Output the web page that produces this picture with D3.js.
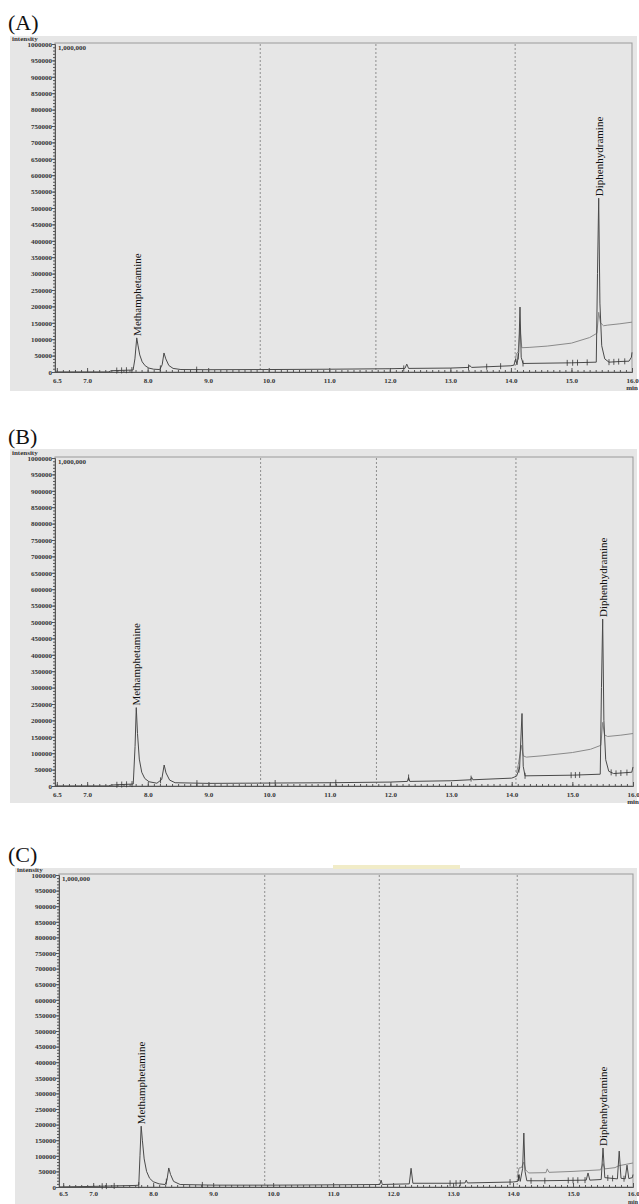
<!DOCTYPE html>
<html>
<head>
<meta charset="utf-8">
<script src="https://cdn.jsdelivr.net/npm/d3@7/dist/d3.min.js"></script>
<style>
  body { margin: 0; background: #fff; }
  svg { display: block; }
  .axis text { font-family: "Liberation Serif", serif; font-weight: bold; font-size: 7px; fill: #333; }
  .axis path, .axis line { stroke: #555; }
</style>
</head>
<body>
<div id="chart"></div>
<script>
// tick labels
const xTickValues = [6.5, 7.0, 8.0, 9.0, 10.0, 11.0, 12.0, 13.0, 14.0, 15.0, 16.0];
const yTickValues = [0, 50000, 100000, 150000, 200000, 250000, 300000, 350000, 400000, 450000, 500000,
  550000, 600000, 650000, 700000, 750000, 800000, 850000, 900000, 950000, 1000000];
const panelNames = ["(A)", "(B)", "(C)"];
// segment boundaries (min), dashed lines
const segmentTimes = [9.86, 11.77, 14.07];

// (A) TIC trace [min, intensity]
const ticA = [[6.47,0],[7.35,0],[7.40,4000],[7.76,6000],[7.79,40000],[7.82,104000],[7.84,82000],[7.87,52000],
  [7.91,31000],[7.96,19000],[8.02,12000],[8.10,8500],[8.20,7500],[8.24,22000],[8.27,58000],[8.30,40000],
  [8.35,20000],[8.42,11000],[8.55,7500],[9.0,7000],[10.0,7500],[11.0,8500],[12.0,10000],[12.25,11000],
  [12.28,24000],[12.31,11000],[13.0,12000],[13.30,14000],[13.32,20000],[13.35,14000],[14.0,19000],
  [14.05,21000],[14.08,40000],[14.10,22000],[14.13,60000],[14.15,198000],[14.17,45000],[14.20,26000],
  [15.0,28000],[15.41,30000],[15.43,300000],[15.45,530000],[15.47,210000],[15.50,80000],[15.55,40000],
  [15.62,30000],[15.80,32000],[15.95,33000],[15.99,45000],[16.0,60000]];
// (A) second trace, starts at last segment
const subA = [[14.07,30000],[14.09,55000],[14.12,62000],[14.15,135000],[14.18,74000],[14.30,75000],
  [14.60,79000],[15.0,88000],[15.30,105000],[15.42,118000],[15.45,182000],[15.48,150000],[15.53,141000],
  [15.60,143000],[15.80,147000],[16.0,152000]];
const marksA = [7.49, 7.57, 7.65, 7.74, 8.21, 8.81, 12.23, 13.30, 13.60, 13.83, 14.12, 14.20, 14.93, 15.02, 15.10, 15.26, 15.62, 15.70, 15.78, 15.88];
const peaksA = [{ name: "Methamphetamine", t: 7.82, v: 104000 }, { name: "Diphenhydramine", t: 15.45, v: 530000 }];

// (B)
const ticB = [[6.47,0],[7.35,0],[7.40,3000],[7.76,6000],[7.79,120000],[7.81,239000],[7.83,160000],[7.86,82000],
  [7.90,42000],[7.95,23000],[8.02,13000],[8.15,8500],[8.23,20000],[8.27,64000],[8.30,40000],[8.36,18000],
  [8.45,10000],[9.0,8000],[10.0,9000],[11.0,10000],[12.0,12000],[12.28,14000],[12.30,26000],[12.32,14000],
  [13.0,16000],[13.32,19000],[13.34,26000],[13.36,19000],[14.0,24000],[14.08,30000],[14.13,55000],
  [14.17,221000],[14.19,60000],[14.22,31000],[15.0,33000],[15.46,36000],[15.48,300000],[15.50,509000],
  [15.52,200000],[15.55,80000],[15.60,45000],[15.68,38000],[15.98,42000],[16.0,58000]];
const subB = [[14.08,40000],[14.11,66000],[14.16,124000],[14.19,92000],[14.24,88000],[14.50,92000],
  [15.0,102000],[15.30,112000],[15.47,124000],[15.50,194000],[15.53,156000],[15.58,151000],[15.80,155000],
  [16.0,160000]];
const marksB = [7.49, 7.57, 7.65, 7.74, 8.21, 8.81, 10.10, 11.10, 12.30, 13.33, 14.12, 14.22, 14.98, 15.05, 15.12, 15.64, 15.72, 15.80, 15.90];
const peaksB = [{ name: "Methamphetamine", t: 7.81, v: 239000 }, { name: "Diphenhydramine", t: 15.50, v: 509000 }];

// (C)
const ticC = [[6.43,0],[7.0,2000],[7.70,5000],[7.76,6000],[7.78,100000],[7.80,195000],[7.82,150000],[7.85,90000],
  [7.89,50000],[7.94,28000],[8.0,17000],[8.10,10000],[8.20,8000],[8.23,22000],[8.26,61000],[8.29,40000],
  [8.34,18000],[8.45,8000],[9.0,6000],[10.0,6000],[11.0,7000],[11.78,8000],[11.80,22000],[11.82,8000],
  [12.0,9000],[12.27,10000],[12.30,60000],[12.33,12000],[13.0,12000],[13.20,13000],[13.22,22000],
  [13.24,13000],[14.0,16000],[14.08,18000],[14.10,40000],[14.12,18000],[14.16,60000],[14.18,173000],
  [14.20,50000],[14.23,20000],[14.50,20000],[15.22,22000],[15.25,45000],[15.28,22000],[15.47,24000],
  [15.50,125000],[15.53,30000],[15.74,26000],[15.77,115000],[15.80,28000],[15.87,26000],[15.90,70000],
  [15.93,27000],[15.99,30000],[16.0,40000]];
const subC = [[14.07,30000],[14.10,61000],[14.14,62000],[14.18,80000],[14.21,55000],[14.26,45000],
  [14.55,46000],[14.57,58000],[14.60,47000],[15.0,50000],[15.46,55000],[15.50,75000],[15.53,58000],
  [15.70,62000],[15.76,68000],[16.0,77000]];
const marksC = [7.15, 7.22, 7.35, 7.76, 8.22, 8.82, 12.95, 13.05, 13.12, 13.95, 14.09, 14.30, 14.53, 14.92, 15.00, 15.08, 15.20, 15.58, 15.66, 15.85];
const peaksC = [{ name: "Methamphetamine", t: 7.80, v: 195000 }, { name: "Diphenhydramine", t: 15.50, v: 125000 }];

const tics = [ticA, ticB, ticC];
const subs = [subA, subB, subC];
const marks = [marksA, marksB, marksC];
const peaks = [peaksA, peaksB, peaksC];

// page layout for each panel
const layout = [
  { bgX: 10, bgTop: 36, bgBottom: 391, labelY: 30, t0: 6.47, xl: 55, xr: 632, yt: 44, yb: 372, pad: 6, minY: 390, minSize: 7 },
  { bgX: 10, bgTop: 449, bgBottom: 803, labelY: 444, t0: 6.47, xl: 55, xr: 633, yt: 458, yb: 786, pad: 6, minY: 804, minSize: 7 },
  { bgX: 15, bgTop: 868, bgBottom: 1204, labelY: 862, t0: 6.43, xl: 59, xr: 633, yt: 875, yb: 1187, pad: 4, minY: 1204, minSize: 6 }
];

const svg = d3.select("#chart").append("svg")
  .attr("width", 639)
  .attr("height", 1204);

function valueAt(trace, t) {
  // place a marker on the drawn trace
  const i = d3.bisector(d => d[0]).left(trace, t);
  if (i <= 0) return trace[0][1];
  if (i >= trace.length) return trace[trace.length - 1][1];
  const a = trace[i - 1], b = trace[i];
  return a[1] + (b[1] - a[1]) * (t - a[0]) / (b[0] - a[0]);
}

layout.forEach((p, k) => {
  const g = svg.append("g");

  g.append("rect")
    .attr("x", p.bgX).attr("y", p.bgTop)
    .attr("width", 637 - p.bgX).attr("height", p.bgBottom - p.bgTop)
    .attr("fill", "#e6e6e6");

  g.append("text")
    .attr("x", 8).attr("y", p.labelY)
    .style("font-family", "'Liberation Serif', serif")
    .style("font-size", "22px")
    .attr("fill", "#111")
    .text(panelNames[k]);

  const x = d3.scaleLinear().domain([p.t0, 16.0]).range([p.xl, p.xr]);
  const y = d3.scaleLinear().domain([0, 1000000]).range([p.yb, p.yt]);

  // frame
  g.append("rect")
    .attr("x", p.xl).attr("y", p.yt - 1)
    .attr("width", p.xr - p.xl).attr("height", p.yb - p.yt + 1)
    .attr("fill", "none")
    .attr("stroke", "#999")
    .attr("stroke-width", 1);

  // segment lines
  g.selectAll(".seg")
    .data(segmentTimes)
    .enter()
    .append("line")
    .attr("x1", d => x(d)).attr("x2", d => x(d))
    .attr("y1", p.yt).attr("y2", p.yb)
    .attr("stroke", "#777")
    .attr("stroke-width", 0.8)
    .attr("stroke-dasharray", "2,2");

  // y axis
  g.append("g")
    .attr("class", "axis")
    .attr("transform", "translate(" + p.xl + ",0)")
    .call(d3.axisLeft(y).tickValues(d3.range(0, 1000001, 10000)).tickSize(2).tickFormat("").tickSizeOuter(0));
  g.append("g")
    .attr("class", "axis")
    .attr("transform", "translate(" + p.xl + ",0)")
    .call(d3.axisLeft(y).tickValues(yTickValues).tickSize(3).tickPadding(0).tickSizeOuter(0).tickFormat(d3.format("d")));

  // x axis
  g.append("g")
    .attr("class", "axis")
    .attr("transform", "translate(0," + p.yb + ")")
    .call(d3.axisBottom(x).tickValues(d3.range(6.5, 16.01, 0.1)).tickSize(-2).tickFormat("").tickSizeOuter(0));
  g.append("g")
    .attr("class", "axis")
    .attr("transform", "translate(0," + p.yb + ")")
    .call(d3.axisBottom(x).tickValues(xTickValues).tickSize(-4).tickPadding(p.pad).tickSizeOuter(0).tickFormat(d3.format(".1f")));

  const small = (sel) => sel
    .style("font-family", "'Liberation Serif', serif")
    .style("font-weight", "bold")
    .style("font-size", "7px")
    .attr("fill", "#333");

  g.append("text").attr("x", p.bgX + 2).attr("y", p.yt - 3).text("intensity").call(small);
  g.append("text").attr("x", p.xl + 3).attr("y", p.yt + 6).text("1,000,000").call(small);
  g.append("text").attr("x", p.xr).attr("y", p.minY).attr("text-anchor", "middle").text("min").call(small)
    .style("font-size", p.minSize + "px");

  const line = d3.line()
    .x(d => x(d[0]))
    .y(d => y(d[1]));

  g.append("path")
    .datum(subs[k])
    .attr("d", line)
    .attr("fill", "none")
    .attr("stroke", "#8a8a8a")
    .attr("stroke-width", 1);

  g.append("path")
    .datum(tics[k])
    .attr("d", line)
    .attr("fill", "none")
    .attr("stroke", "#4a4a4a")
    .attr("stroke-width", 1);

  // integration marks
  g.selectAll(".mark")
    .data(marks[k])
    .enter()
    .append("line")
    .attr("x1", d => x(d)).attr("x2", d => x(d))
    .attr("y1", d => y(valueAt(tics[k], d)) - 3)
    .attr("y2", d => y(valueAt(tics[k], d)) + 3)
    .attr("stroke", "#333")
    .attr("stroke-width", 0.8);

  // peak names
  g.selectAll(".peak")
    .data(peaks[k])
    .enter()
    .append("text")
    .attr("transform", d => "translate(" + (x(d.t) + 4) + "," + (y(d.v) - 2) + ") rotate(-90)")
    .style("font-family", "'Liberation Serif', serif")
    .style("font-size", "11px")
    .attr("fill", "#111")
    .text(d => d.name);
});

// scanner mark on the top of (C)
svg.append("rect")
  .attr("x", 333).attr("y", 865)
  .attr("width", 127).attr("height", 4)
  .attr("fill", "#f1ecc8");
</script>
</body>
</html>
